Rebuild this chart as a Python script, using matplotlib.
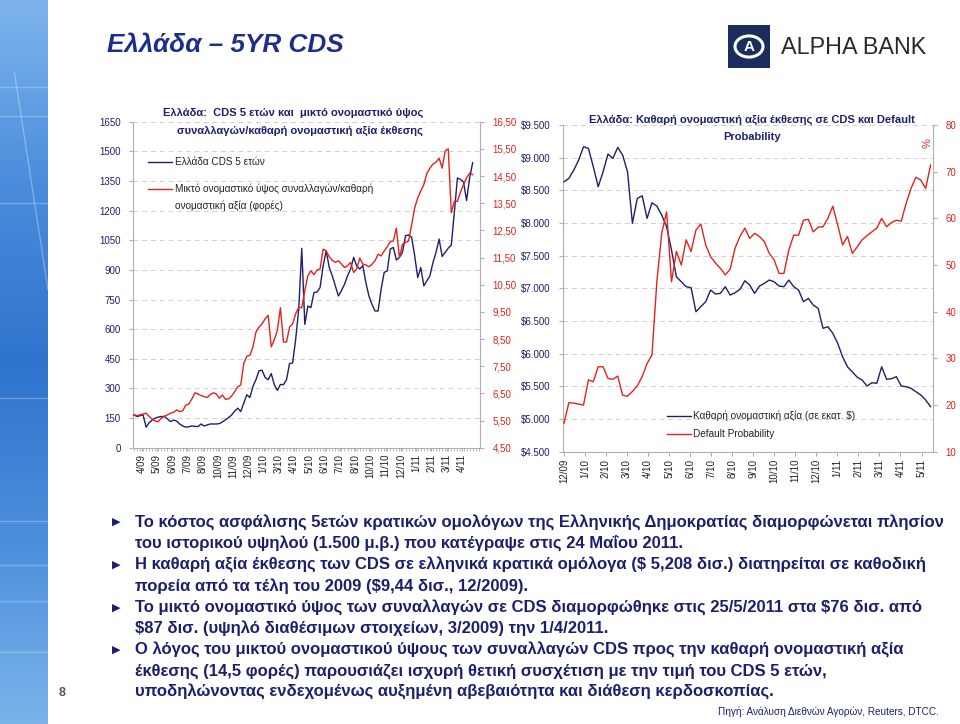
import matplotlib
matplotlib.use("Agg")
import matplotlib.pyplot as plt
import numpy as np
from matplotlib.colors import LinearSegmentedColormap
from matplotlib.patches import Rectangle, Circle
from matplotlib.lines import Line2D

W, H = 960, 724
NAVY = "#1f1f6b"
RED = "#e3231b"
TXT = "#1b1f6e"
GRID = "#cfcfcf"
SPINE = "#b0b0b0"
SANS = ["Liberation Sans", "DejaVu Sans"]
NARROW = ["Liberation Sans Narrow", "Liberation Sans", "DejaVu Sans"]

# ---------------- data ----------------
left_labels = ["4/09", "5/09", "6/09", "7/09", "8/09", "10/09", "11/09", "12/09",
               "1/10", "3/10", "4/10", "5/10", "6/10", "7/10", "8/10", "10/10",
               "11/10", "12/10", "1/11", "2/11", "3/11", "4/11"]

cds_5y_bp = [166, 158, 162, 166, 104, 127, 140, 150, 155, 158,
             158, 145, 132, 140, 135, 120, 110, 104, 106, 110,
             108, 107, 120, 110, 115, 120, 120, 120, 122, 130,
             141, 152, 165, 185, 200, 183, 226, 268, 254, 310,
             345, 390, 392, 355, 344, 375, 319, 290, 320, 319,
             344, 426, 429, 548, 700, 1009, 624, 717, 709, 785,
             788, 811, 920, 997, 912, 870, 819, 768, 795, 827,
             870, 904, 963, 920, 904, 922, 836, 768, 726, 692,
             692, 802, 887, 895, 1005, 1014, 950, 963, 989, 1073,
             1077, 1065, 971, 861, 912, 819, 845, 870, 938, 989,
             1056, 968, 989, 1010, 1026, 1192, 1365, 1358, 1345, 1251,
             1365, 1443]

gross_net_ratio = [5.71, 5.68, 5.71, 5.74, 5.77, 5.65, 5.55, 5.48, 5.46, 5.59,
                   5.66, 5.71, 5.77, 5.80, 5.89, 5.83, 5.86, 6.07, 6.11, 6.30,
                   6.52, 6.48, 6.42, 6.38, 6.35, 6.45, 6.52, 6.48, 6.32, 6.44,
                   6.28, 6.30, 6.40, 6.56, 6.74, 6.81, 7.60, 7.87, 7.90, 8.21,
                   8.76, 8.94, 9.06, 9.25, 9.37, 8.21, 8.48, 8.82, 9.65, 8.39,
                   8.39, 8.94, 9.06, 9.43, 9.67, 9.65, 10.28, 10.83, 11.01, 10.87,
                   11.04, 11.08, 11.81, 11.74, 11.53, 11.40, 11.32, 11.38, 11.26, 11.13,
                   11.20, 11.32, 10.95, 11.08, 11.48, 11.26, 11.23, 11.16, 11.25, 11.38,
                   11.62, 11.56, 11.74, 11.90, 12.08, 12.11, 12.58, 11.50, 11.99, 12.05,
                   12.11, 12.70, 13.33, 13.70, 13.95, 14.19, 14.60, 14.79, 14.94, 15.01,
                   15.16, 14.79, 15.43, 15.50, 13.15, 13.57, 13.57, 13.91, 14.19, 14.43,
                   14.61, 14.55]

left_bp_ticks = [0, 150, 300, 450, 600, 750, 900, 1050, 1200, 1350, 1500, 1650]
left_ratio_ticks = [4.5, 5.5, 6.5, 7.5, 8.5, 9.5, 10.5, 11.5, 12.5, 13.5, 14.5, 15.5, 16.5]

right_labels = ["12/09", "1/10", "2/10", "3/10", "4/10", "5/10", "6/10", "7/10", "8/10",
                "9/10", "10/10", "11/10", "12/10", "1/11", "2/11", "3/11", "4/11", "5/11"]

net_notional_musd = [8631, 8683, 8810, 8963, 9167, 9142, 8861, 8555, 8784, 9055,
                     8989, 9157, 9040, 8784, 7995, 8377, 8417, 8071, 8310, 8259,
                     8122, 7943, 7586, 7178, 7101, 7025, 7010, 6642, 6720, 6795,
                     6974, 6913, 6923, 7025, 6897, 6933, 6985, 7116, 7050, 6923,
                     7035, 7077, 7127, 7101, 7035, 7025, 7127, 7025, 6974, 6795,
                     6846, 6744, 6694, 6388, 6413, 6312, 6159, 5954, 5800, 5720,
                     5640, 5597, 5505, 5556, 5547, 5800, 5608, 5617, 5648, 5505,
                     5495, 5470, 5418, 5368, 5291, 5189]

default_prob_pct = [16.1, 20.5, 20.4, 20.2, 20.0, 25.4, 25.0, 28.2, 28.2, 25.7,
                    25.5, 26.2, 22.1, 21.9, 22.9, 24.1, 26.1, 28.9, 30.7, 46.4,
                    56.8, 61.4, 46.4, 52.9, 50.0, 55.4, 52.9, 57.5, 58.8, 54.3,
                    51.8, 50.4, 49.3, 47.9, 49.1, 53.6, 56.1, 57.9, 55.7, 56.8,
                    56.1, 55.0, 52.5, 51.1, 48.2, 48.2, 53.2, 56.4, 56.4, 59.6,
                    59.8, 57.1, 58.1, 58.2, 60.0, 62.6, 58.6, 54.3, 56.1, 52.5,
                    53.9, 55.4, 56.3, 57.1, 57.9, 60.0, 58.2, 59.1, 59.6, 59.4,
                    63.2, 66.4, 68.8, 68.2, 66.4, 71.4]

right_usd_ticks = [4500, 5000, 5500, 6000, 6500, 7000, 7500, 8000, 8500, 9000, 9500]
right_pct_ticks = [10, 20, 30, 40, 50, 60, 70, 80]

bullets = [
    ["Το κόστος ασφάλισης 5ετών κρατικών ομολόγων της Ελληνικής Δημοκρατίας διαμορφώνεται πλησίον",
     "του ιστορικού υψηλού (1.500 μ.β.) που κατέγραψε στις 24 Μαΐου 2011."],
    ["Η καθαρή αξία έκθεσης των CDS σε ελληνικά κρατικά ομόλογα ($ 5,208 δισ.) διατηρείται σε καθοδική",
     "πορεία από τα τέλη του 2009 ($9,44 δισ., 12/2009)."],
    ["Το μικτό ονομαστικό ύψος των συναλλαγών σε CDS διαμορφώθηκε στις 25/5/2011 στα $76 δισ. από",
     "$87 δισ. (υψηλό διαθέσιμων στοιχείων, 3/2009) την 1/4/2011."],
    ["Ο λόγος του μικτού ονομαστικού ύψους των συναλλαγών CDS προς την καθαρή ονομαστική αξία",
     "έκθεσης (14,5 φορές) παρουσιάζει ισχυρή θετική συσχέτιση με την τιμή του CDS 5 ετών,",
     "υποδηλώνοντας ενδεχομένως αυξημένη αβεβαιότητα και διάθεση κερδοσκοπίας."],
]

# ---------------- figure ----------------
fig = plt.figure(figsize=(9.6, 7.24), dpi=100)
fig.patch.set_facecolor("white")
renderer = fig.canvas.get_renderer()


def fx(px):
    return px / W


def fy(py):
    return 1 - py / H


def fit_text(x, y, s, width_px, size0=10, **kw):
    t = fig.text(fx(x), fy(y), s, fontsize=size0, **kw)
    w = t.get_window_extent(renderer=renderer).width
    t.set_fontsize(size0 * width_px / w)
    return t


# left decorative stripe
sax = fig.add_axes([0, 0, 48 / W, 1])
sax.axis("off")
grad = np.linspace(0, 1, 300).reshape(-1, 1)
cmap = LinearSegmentedColormap.from_list("s", ["#7db4ec", "#4a8ddc", "#2f74cc", "#4b8fdc", "#7ab3ea"])
sax.imshow(grad, aspect="auto", cmap=cmap, extent=[0, 1, 0, 1], origin="upper")
for yy in [0.12, 0.16, 0.28, 0.55, 0.72, 0.78, 0.83, 0.9]:
    sax.plot([0, 1], [1 - yy, 1 - yy], color="white", alpha=0.25, lw=1)
sax.plot([0.3, 1.0], [0.9, 0.6], color="white", alpha=0.3, lw=1)
sax.set_xlim(0, 1)
sax.set_ylim(0, 1)

# main title
fit_text(107, 45, "Ελλάδα – 5YR CDS", 236, 20, family=NARROW, fontweight="bold",
         style="italic", color="#1c2d8c", va="center")

# logo
fig.patches.append(Rectangle((fx(728), fy(68)), 42 / W, 43 / H, transform=fig.transFigure,
                             facecolor="#1b2d5c", edgecolor="none"))
fig.patches.append(Circle((fx(749), fy(46.5)), 14 / W, transform=fig.transFigure,
                          facecolor="#1b2d5c", edgecolor="white", lw=2.2))
fit_text(749, 47, "A", 11, 12, family=SANS, fontweight="bold", color="white",
         ha="center", va="center")
fit_text(781, 47, "ALPHA BANK", 146, 14, family=NARROW, color="#2a2a2a", va="center")

# ---------------- left chart ----------------
ax1 = fig.add_axes([fx(133), fy(447.7), (480 - 133) / W, (447.7 - 121.7) / H])
x1 = np.arange(len(cds_5y_bp))
ax1.plot(x1, cds_5y_bp, color=NAVY, lw=1.0, zorder=3)
ax1.set_ylim(0, 1650)
ax1.set_yticks(left_bp_ticks)
ax1.set_yticklabels([str(v) for v in left_bp_ticks])
ax1.set_xlim(-0.3, 113.4)
ax1.set_xticks(np.arange(len(left_labels)) * 5 + 2.5)
ax1.set_xticklabels(left_labels, rotation=90)
ax1.set_xticks(np.arange(0, 114), minor=True)
ax1.grid(axis="y", ls=(0, (5, 4)), color=GRID, lw=0.7)
ax1.set_axisbelow(True)
for sp in ["top", "right"]:
    ax1.spines[sp].set_visible(False)
for sp in ["left", "bottom"]:
    ax1.spines[sp].set_color(SPINE)
    ax1.spines[sp].set_linewidth(0.8)
ax1.tick_params(axis="y", labelsize=7, colors=SPINE, labelcolor=NAVY, length=3, pad=6)
ax1.tick_params(axis="x", which="both", labelsize=7, colors=SPINE, labelcolor="#222222",
                length=2.5, pad=2)
for t in ax1.get_yticklabels() + ax1.get_xticklabels():
    t.set_family(SANS)

ax1b = ax1.twinx()
ax1b.plot(x1, gross_net_ratio, color=RED, lw=1.0)
ax1b.set_ylim(4.5, 16.5)
ax1b.set_yticks(left_ratio_ticks)
ax1b.set_yticklabels([f"{v:.2f}".replace(".", ",") for v in left_ratio_ticks])
for sp in ["top", "left", "bottom"]:
    ax1b.spines[sp].set_visible(False)
ax1b.spines["right"].set_color(SPINE)
ax1b.spines["right"].set_linewidth(0.8)
ax1b.tick_params(axis="y", labelsize=7, colors=SPINE, labelcolor=RED, length=3, pad=6)
for t in ax1b.get_yticklabels():
    t.set_family(SANS)

fig.text(fx(293), fy(113), "Ελλάδα:  CDS 5 ετών και  μικτό ονομαστικό ύψος",
         fontsize=8, family=SANS, fontweight="bold", color=TXT, ha="center", va="center")
fig.text(fx(300), fy(131), "συναλλαγών/καθαρή ονομαστική αξία έκθεσης",
         fontsize=8, family=SANS, fontweight="bold", color=TXT, ha="center", va="center")

fig.lines.append(Line2D([fx(148), fx(172)], [fy(162), fy(162)], transform=fig.transFigure,
                        color=NAVY, lw=1.0))
fig.text(fx(175), fy(162), "Ελλάδα CDS 5 ετών", fontsize=7.2, family=SANS,
         color="#222222", va="center")
fig.lines.append(Line2D([fx(148), fx(172)], [fy(189), fy(189)], transform=fig.transFigure,
                        color=RED, lw=1.0))
fig.text(fx(175), fy(189), "Μικτό ονομαστικό ύψος συναλλαγών/καθαρή", fontsize=7.2,
         family=SANS, color="#222222", va="center")
fig.text(fx(175), fy(206), "ονομαστική αξία (φορές)", fontsize=7.2,
         family=SANS, color="#222222", va="center")

# ---------------- right chart ----------------
ax2 = fig.add_axes([fx(563), fy(451.7), (933 - 563) / W, 326.7 / H])
x2 = np.arange(len(net_notional_musd))
ax2.plot(x2, net_notional_musd, color=NAVY, lw=1.0, zorder=3)
ax2.set_ylim(4500, 9500)
ax2.set_yticks(right_usd_ticks)
ax2.set_yticklabels(["$" + f"{v:,}".replace(",", ".") for v in right_usd_ticks])
ax2.set_xlim(-0.2, 75.5)
ax2.set_xticks(np.arange(len(right_labels)) * 4.303)
ax2.set_xticklabels(right_labels, rotation=90)
ax2.grid(axis="y", ls=(0, (5, 4)), color=GRID, lw=0.7)
ax2.set_axisbelow(True)
for sp in ["top", "right"]:
    ax2.spines[sp].set_visible(False)
for sp in ["left", "bottom"]:
    ax2.spines[sp].set_color(SPINE)
    ax2.spines[sp].set_linewidth(0.8)
ax2.tick_params(axis="y", labelsize=7, colors=SPINE, labelcolor=NAVY, length=3, pad=6)
ax2.tick_params(axis="x", labelsize=7, colors=SPINE, labelcolor="#222222", length=3, pad=2)
for t in ax2.get_yticklabels() + ax2.get_xticklabels():
    t.set_family(SANS)

ax2b = ax2.twinx()
ax2b.plot(x2, default_prob_pct, color=RED, lw=1.0)
ax2b.set_ylim(10, 80)
ax2b.set_yticks(right_pct_ticks)
for sp in ["top", "left", "bottom"]:
    ax2b.spines[sp].set_visible(False)
ax2b.spines["right"].set_color(SPINE)
ax2b.spines["right"].set_linewidth(0.8)
ax2b.tick_params(axis="y", labelsize=7, colors=SPINE, labelcolor=RED, length=3, pad=6)
for t in ax2b.get_yticklabels():
    t.set_family(SANS)

fig.text(fx(752), fy(120), "Ελλάδα: Καθαρή ονομαστική αξία έκθεσης σε CDS και Default",
         fontsize=8, family=SANS, fontweight="bold", color=TXT, ha="center", va="center")
fig.text(fx(752), fy(137), "Probability",
         fontsize=8, family=SANS, fontweight="bold", color=TXT, ha="center", va="center")
fig.text(fx(928), fy(143), "%", fontsize=8, family=SANS, color=RED, rotation=90,
         ha="center", va="center")

fig.lines.append(Line2D([fx(667), fx(691)], [fy(416), fy(416)], transform=fig.transFigure,
                        color=NAVY, lw=1.0))
fig.text(fx(693), fy(416), "Καθαρή ονομαστική αξία (σε εκατ. $)", fontsize=7.2,
         family=SANS, color="#222222", va="center")
fig.lines.append(Line2D([fx(667), fx(691)], [fy(434), fy(434)], transform=fig.transFigure,
                        color=RED, lw=1.0))
fig.text(fx(693), fy(434), "Default Probability", fontsize=7.2,
         family=SANS, color="#222222", va="center")

# ---------------- bullet text ----------------
probe = fig.text(0, 0, bullets[0][0], fontsize=12, family=NARROW, fontweight="bold")
pw = probe.get_window_extent(renderer=renderer).width
probe.remove()
bsize = 12 * 808 / pw
line_y = 522
for block in bullets:
    fig.text(fx(116), fy(line_y), "\u25b6", fontsize=8, family=["DejaVu Sans"],
             color=TXT, va="center", ha="center")
    for ln in block:
        fig.text(fx(135), fy(line_y), ln, fontsize=bsize, family=NARROW,
                 fontweight="bold", color=TXT, va="center")
        line_y += 21.3
fit_text(718, 712, "Πηγή: Ανάλυση Διεθνών Αγορών, Reuters, DTCC.", 222, 9,
         family=NARROW, color=TXT, va="center")
fig.text(fx(62), fy(693), "8", fontsize=9, family=SANS, fontweight="bold",
         color="#555555", ha="center", va="center")

fig.savefig("out.png", dpi=100, facecolor="white")
